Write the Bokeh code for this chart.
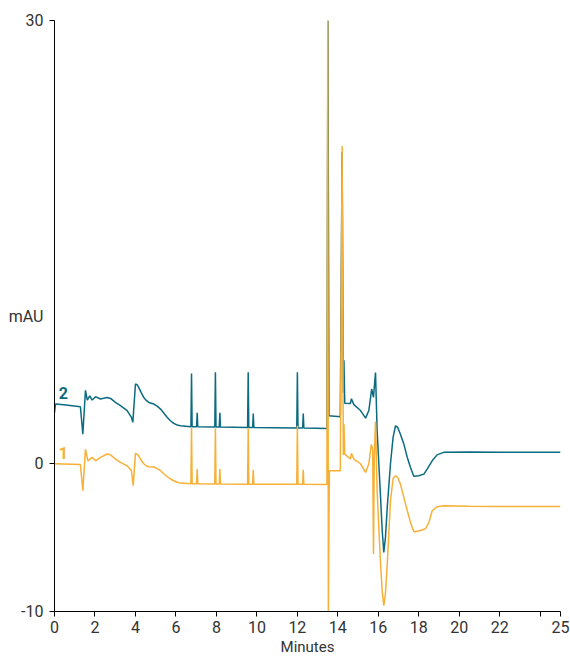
from bokeh.plotting import figure
from bokeh.models import Range1d, FixedTicker, Label, ColumnDataSource
from bokeh.embed import file_html
from bokeh.resources import INLINE

# ---- data ----
x_ticks = [0, 2, 4, 6, 8, 10, 12, 14, 16, 18, 20, 22, 24, 25]
x_tick_labels = ["0", "2", "4", "6", "8", "10", "12", "14", "16", "18", "20", "22", "", "25"]
y_ticks = [-10, 0, 30]
y_tick_labels = ["-10", "0", "30"]
y_title = "mAU"
y_title_pos = 10
x_title = "Minutes"

# trace 2 (teal)
minutes_2 = [0.00, 0.05, 0.46, 1.28, 1.40, 1.53, 1.62, 1.74, 1.86, 2.03,
             2.27, 2.60, 2.77, 3.01, 3.26, 3.59, 3.80, 3.87, 4.00, 4.08,
             4.16, 4.28, 4.41, 4.55, 4.66, 4.91, 5.07, 5.24, 5.40, 5.57,
             5.73, 5.89, 6.06, 6.23, 6.74, 6.77, 6.80, 7.02, 7.05, 7.08,
             7.92, 7.95, 7.98, 8.14, 8.17, 8.20, 9.54, 9.57, 9.60, 9.79,
             9.82, 9.85, 11.97, 12.00, 12.03, 12.26, 12.29, 12.32, 13.46, 13.51,
             13.56, 14.12, 14.21, 14.27, 14.30, 14.34, 14.62, 14.67, 14.79, 15.12,
             15.37, 15.53, 15.67, 15.76, 15.86, 15.94, 16.11, 16.19, 16.27, 16.35,
             16.44, 16.60, 16.73, 16.85, 16.96, 17.09, 17.26, 17.43, 17.59, 17.75,
             18.00, 18.25, 18.41, 18.66, 18.90, 19.23, 20.50, 22.00, 25.00]
mau_2 = [3.45, 4.05, 4.00, 3.86, 2.00, 4.97, 4.31, 4.60, 4.31, 4.54,
         4.38, 4.49, 4.42, 4.15, 3.93, 3.59, 3.14, 2.80, 5.40, 5.35,
         5.17, 4.83, 4.49, 4.27, 4.15, 4.04, 3.90, 3.70, 3.43, 3.13,
         2.91, 2.73, 2.62, 2.57, 2.50, 6.10, 2.50, 2.50, 3.45, 2.50,
         2.48, 6.20, 2.48, 2.48, 3.45, 2.48, 2.45, 6.20, 2.45, 2.45,
         3.40, 2.45, 2.42, 6.20, 2.42, 2.42, 3.40, 2.42, 2.39, 30.0,
         3.25, 3.18, 21.1, 4.80, 7.00, 4.10, 4.08, 4.40, 4.00, 3.60,
         3.09, 3.60, 5.06, 4.50, 6.18, 2.23, -2.28, -4.50, -6.00, -5.00,
         -2.96, 0.00, 1.80, 2.57, 2.46, 2.00, 1.33, 0.43, -0.25, -0.85,
         -0.81, -0.70, -0.36, 0.20, 0.60, 0.77, 0.80, 0.78, 0.77]

# trace 1 (orange)
minutes_1 = [0.00, 1.28, 1.40, 1.53, 1.65, 1.86, 2.03, 2.27, 2.60, 2.77,
             3.01, 3.26, 3.59, 3.80, 3.89, 4.00, 4.08, 4.16, 4.28, 4.41,
             4.55, 4.66, 4.91, 5.07, 5.24, 5.40, 5.57, 5.73, 5.89, 6.06,
             6.23, 6.74, 6.77, 6.80, 7.02, 7.05, 7.08, 7.92, 7.95, 7.98,
             8.14, 8.17, 8.20, 9.54, 9.57, 9.60, 9.79, 9.82, 9.85, 11.97,
             12.00, 12.03, 12.26, 12.29, 12.32, 13.46, 13.50, 13.53, 13.58, 14.12,
             14.21, 14.27, 14.30, 14.34, 14.62, 14.67, 14.79, 15.12, 15.37, 15.53,
             15.65, 15.72, 15.76, 15.80, 15.86, 15.94, 16.11, 16.19, 16.27, 16.35,
             16.44, 16.60, 16.73, 16.85, 16.96, 17.09, 17.26, 17.43, 17.59, 17.75,
             18.00, 18.33, 18.50, 18.66, 18.90, 19.23, 20.50, 22.00, 25.00]
mau_1 = [0.00, -0.05, -1.83, 0.97, 0.20, 0.43, 0.20, 0.43, 0.66, 0.60,
         0.32, 0.09, -0.14, -0.47, -1.49, 0.70, 0.65, 0.54, 0.25, 0.00,
         -0.15, -0.20, -0.22, -0.33, -0.47, -0.68, -0.88, -1.03, -1.15, -1.25,
         -1.31, -1.35, 2.46, -1.35, -1.36, -0.36, -1.36, -1.37, 2.40, -1.37,
         -1.37, -0.36, -1.37, -1.38, 2.40, -1.38, -1.38, -0.40, -1.38, -1.39,
         2.57, -1.39, -1.39, -0.40, -1.39, -1.40, 30.0, -10.0, -0.47, -0.47,
         21.5, 0.60, 2.68, 0.65, 0.32, 0.70, 0.32, 0.00, -0.59, 0.00,
         1.30, 1.00, -6.10, 0.50, 2.85, -1.83, -6.80, -8.60, -9.60, -8.80,
         -6.80, -2.50, -1.00, -0.81, -0.93, -1.38, -2.28, -3.18, -3.97, -4.60,
         -4.55, -4.40, -3.97, -3.18, -2.91, -2.84, -2.88, -2.90, -2.89]

trace_names = ["1", "2"]
trace_colors = ["#F7B035", "#0B6B80"]
name_pos_min = [0.44, 0.44]
name_pos_mau = [0.75, 4.8]

FONT = "Roboto"

p = figure(width=570, height=658, output_backend="svg", toolbar_location=None,
           x_range=Range1d(0, 25), y_range=Range1d(-10, 30),
           min_border_left=54, min_border_right=10, min_border_top=20,
           min_border_bottom=46)
p.outline_line_color = None
p.xgrid.visible = False
p.ygrid.visible = False
p.background_fill_color = "white"
p.border_fill_color = "white"

src2 = ColumnDataSource(dict(t=minutes_2, v=mau_2))
src1 = ColumnDataSource(dict(t=minutes_1, v=mau_1))
p.line("t", "v", source=src2, line_color=trace_colors[1], line_width=1.5)
p.line("t", "v", source=src1, line_color=trace_colors[0], line_width=1.5)

for name, c, tx, ty in zip(trace_names, trace_colors, name_pos_min, name_pos_mau):
    p.add_layout(Label(x=tx, y=ty, text=name, text_color=c, text_font=FONT,
                       text_font_size="16px", text_font_style="bold",
                       text_align="center", text_baseline="middle"))

for ax in (p.xaxis[0], p.yaxis[0]):
    ax.axis_line_color = "black"
    ax.axis_line_width = 1
    ax.major_tick_line_color = "black"
    ax.major_tick_out = 5
    ax.major_tick_in = 0
    ax.minor_tick_line_color = None
    ax.major_label_text_font = FONT
    ax.major_label_text_font_size = "16px"
    ax.major_label_text_color = "#333333"
    ax.major_label_standoff = 6

p.xaxis[0].major_label_standoff = 4
p.xaxis[0].ticker = FixedTicker(ticks=x_ticks)
p.xaxis[0].major_label_overrides = {t: l for t, l in zip(x_ticks, x_tick_labels)}
p.xaxis[0].axis_label = x_title
p.xaxis[0].axis_label_text_font = FONT
p.xaxis[0].axis_label_text_font_size = "15px"
p.xaxis[0].axis_label_text_font_style = "normal"
p.xaxis[0].axis_label_text_color = "#333333"
p.xaxis[0].axis_label_standoff = 2

# y axis: the "mAU" title sits among the tick labels (no tick mark there);
# visible tick marks are drawn as minor ticks at the numbered values
y_all = sorted(y_ticks + [y_title_pos])
y_overrides = {t: l for t, l in zip(y_ticks, y_tick_labels)}
y_overrides[y_title_pos] = y_title
p.yaxis[0].ticker = FixedTicker(ticks=y_all, minor_ticks=y_ticks)
p.yaxis[0].major_label_overrides = y_overrides
p.yaxis[0].major_tick_line_color = None
p.yaxis[0].minor_tick_line_color = "black"
p.yaxis[0].minor_tick_out = 5
p.yaxis[0].minor_tick_in = 0

open("out.html", "w").write(file_html(p, INLINE))
